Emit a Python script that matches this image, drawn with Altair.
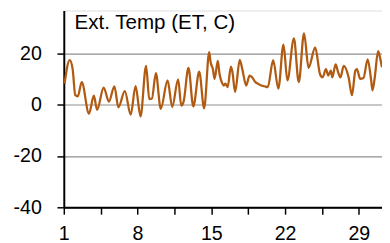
import altair as alt
import pandas as pd

title_text = "Ext. Temp (ET, C)"

days = [1.07, 1.56, 1.84, 2.09, 2.33, 2.70, 3.39, 3.85, 4.16, 4.78, 5.28, 5.80, 6.18, 6.79,
        7.35, 7.81, 8.28, 8.81, 9.11, 9.36, 9.74, 10.20, 10.85, 11.29, 11.85, 12.15, 12.38,
        12.83, 13.29, 13.85, 14.32, 14.80, 14.94, 15.15, 15.31, 15.62, 15.78, 15.99, 16.18,
        16.33, 16.55, 16.86, 17.01, 17.26, 17.70, 17.94, 18.31, 18.63, 18.87, 19.19, 19.43,
        19.75, 20.05, 20.36, 20.87, 21.36, 21.85, 22.22, 22.84, 23.30, 23.80, 24.23, 24.86,
        25.32, 25.56, 25.88, 26.09, 26.34, 26.48, 26.80, 27.04, 27.26, 27.57, 28.03, 28.35,
        28.67, 28.82, 29.13, 29.44, 29.84, 30.16, 30.30, 30.52, 30.83, 31.04, 31.20]

temps = [8.3, 17.5, 14.0, 3.8, 3.4, 8.9, -3.4, 3.6, -1.9, 6.8, 1.3, 7.3, -0.9, 5.4,
         -3.8, 7.4, -4.5, 15.3, 2.3, 2.5, 12.4, -1.5, 9.6, -0.8, 10.0, -0.3, 1.5,
         14.5, -0.6, 13.0, -1.3, 20.6, 16.6, 14.0, 10.2, 17.2, 12.1, 8.9, 7.6,
         8.3, 7.0, 15.0, 12.7, 5.1, 17.6, 14.0, 7.6, 11.5, 10.8, 8.9, 8.3,
         7.6, 7.3, 7.0, 17.5, 6.4, 23.6, 9.6, 26.0, 8.9, 28.0, 14.5, 22.5,
         12.0, 10.8, 14.0, 11.5, 13.4, 10.8, 15.9, 12.7, 10.8, 15.3, 10.8, 3.8,
         13.4, 14.0, 10.2, 10.5, 17.8, 10.0, 5.7, 11.0, 21.0, 18.0, 14.7]

x_ticks = [1, 4.5, 8, 11.5, 15, 18.5, 22, 25.5, 29]
y_ticks = [-40, -20, 0, 20, 40]

df = pd.DataFrame({"day": days, "temp": temps})

FONT = "Liberation Sans"

line = alt.Chart(df).mark_line(
    color="#B05A12", strokeWidth=2.3, interpolate="monotone"
).encode(
    x=alt.X("day:Q",
            scale=alt.Scale(domain=[1, 31.2], nice=False, zero=False),
            axis=alt.Axis(values=x_ticks, title=None, grid=False,
                          labelExpr="(datum.value - 1) % 7 == 0 ? toString(datum.value) : ''",
                          tickSize=7, tickColor="black", tickWidth=1.5,
                          domainColor="black", domainWidth=2,
                          labelFont=FONT, labelFontSize=20, labelColor="black",
                          labelPadding=10, labelFlush=False)),
    y=alt.Y("temp:Q",
            scale=alt.Scale(domain=[-40, 36.9], nice=False, zero=False),
            axis=alt.Axis(values=y_ticks, title=None, grid=True,
                          labelExpr="toString(datum.value)",
                          gridColor="#8f8f8f", gridWidth=1.2,
                          tickSize=7, tickColor="black", tickWidth=1.5,
                          domainColor="black", domainWidth=2,
                          labelFont=FONT, labelFontSize=20, labelColor="black",
                          labelPadding=16)),
)

label = alt.Chart(pd.DataFrame({"t": [title_text]})).mark_text(
    align="left", baseline="alphabetic", font=FONT, fontSize=21, color="black"
).encode(text="t:N", x=alt.value(11), y=alt.value(19))

chart = alt.layer(line, label).properties(
    width=325, height=201,
    autosize=alt.AutoSizeParams(type="none"),
    padding={"left": 57, "top": 0, "right": 0, "bottom": 40},
).configure_view(stroke=None).configure(background="white")

chart.save("out.html", embed_options={"renderer": "svg", "actions": False})
